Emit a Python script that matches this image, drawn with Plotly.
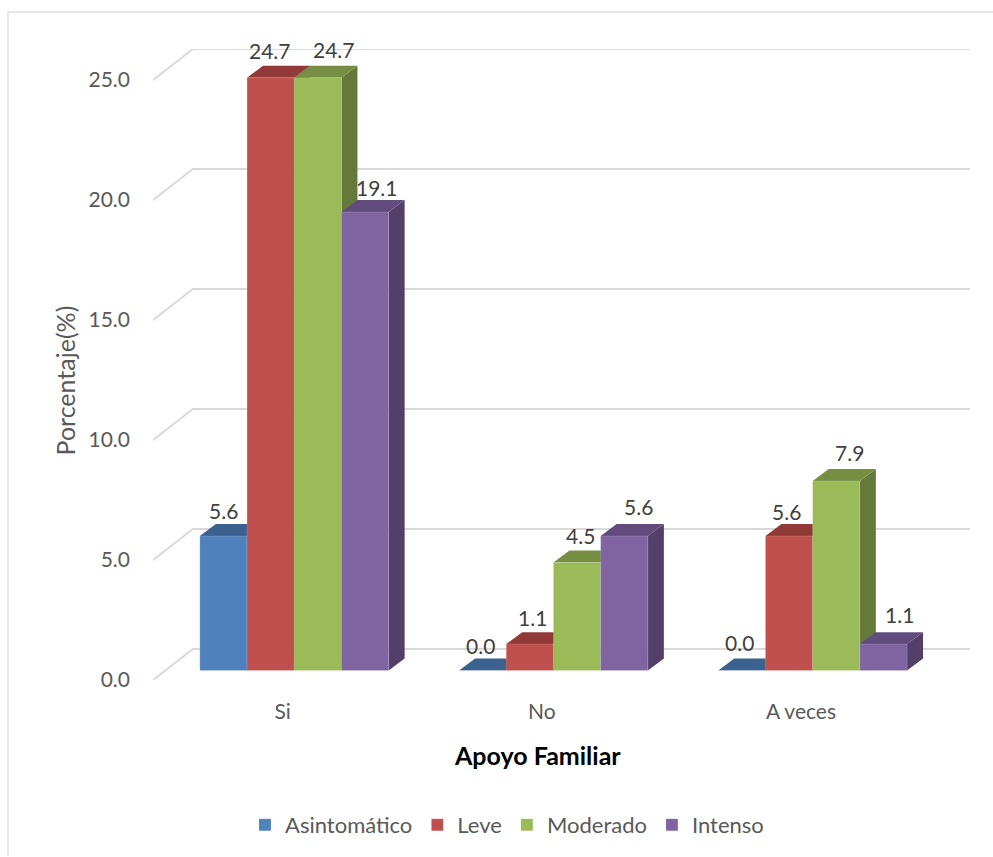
import plotly.graph_objects as go

categories = ["Si", "No", "A veces"]
series_names = ["Asintomático", "Leve", "Moderado", "Intenso"]
asintomatico = [5.6, 0.0, 0.0]
leve = [24.7, 1.1, 5.6]
moderado = [24.7, 4.5, 7.9]
intenso = [19.1, 5.6, 1.1]
y_ticks = [0, 5, 10, 15, 20, 25]
y_tick_labels = ["0.0", "5.0", "10.0", "15.0", "20.0", "25.0"]

values = [asintomatico, leve, moderado, intenso]
front = ["#4F81BD", "#C0504D", "#9BBB59", "#8064A2"]
top = ["#3B618F", "#923A38", "#768F42", "#624C7E"]
side = ["#345578", "#7D3230", "#64793A", "#533F6A"]
# label nudges in pixels, relative to the top centre of each bar
label_dx = [[0, -2, -2], [-1, 3, -3], [16, 3, 13], [12, 14, 16]]
label_dy = [[26, 25, 28], [27, 27, 25], [28, 27, 28], [25, 30, 30]]

W, H = 993, 857
L, R, T, B = 153, 970, 49, 681
PITCH = 259.2
UNIT = 24.04
to_x = lambda px: px / PITCH
to_y = lambda px: px / UNIT
WALL_X, WALL_Y = to_x(40), to_y(31)
BAR_X, BAR_Y = to_x(11.65), to_y(9.5)
DEPTH_X, DEPTH_Y = to_x(16), to_y(12)
BAR_W = to_x(47.2)
paper_x = lambda px: (px - L) / (R - L)
paper_y = lambda px: (B - px) / (B - T)

fig = go.Figure()
shapes = [dict(type="path", xref="paper", yref="paper", layer="below",
               path=f"M {paper_x(8)} {paper_y(857)} L {paper_x(8)} {paper_y(12)} L {paper_x(993)} {paper_y(12)}",
               line=dict(color="#D9D9D9", width=1.25))]
for t in y_ticks:
    shapes.append(dict(type="path", layer="below",
                       path=f"M 0 {t} L {WALL_X} {t + WALL_Y} L {(R - L) / PITCH} {t + WALL_Y}",
                       line=dict(color="#D9D9D9", width=2)))

annotations = []
for k, (name, vals) in enumerate(zip(series_names, values)):
    offset = BAR_X + (k - 2) * BAR_W
    fig.add_trace(go.Bar(
        x=[i + 0.5 for i in range(len(categories))], y=vals, base=BAR_Y,
        width=BAR_W, offset=offset, name=name,
        marker=dict(color=front[k], line=dict(color="rgba(255,255,255,0.2)", width=0.75)),
        hoverinfo="name+y",
    ))
    for i, v in enumerate(vals):
        x0 = i + 0.5 + offset
        x1 = x0 + BAR_W
        y0, y1 = BAR_Y, BAR_Y + v
        if v > 0:
            shapes.append(dict(type="path", layer="below", line=dict(width=0), fillcolor=side[k],
                               path=f"M {x1} {y0} L {x1 + DEPTH_X} {y0 + DEPTH_Y} L {x1 + DEPTH_X} {y1 + DEPTH_Y} L {x1} {y1} Z"))
        shapes.append(dict(type="path", layer="below", line=dict(width=0), fillcolor=top[k],
                           path=f"M {x0} {y1} L {x0 + DEPTH_X} {y1 + DEPTH_Y} L {x1 + DEPTH_X} {y1 + DEPTH_Y} L {x1} {y1} Z"))
        annotations.append(dict(x=(x0 + x1) / 2, y=y1, text=f"{v:.1f}", showarrow=False,
                                xanchor="center", yanchor="middle",
                                xshift=label_dx[k][i], yshift=label_dy[k][i],
                                font=dict(family="Lato", size=21, color="#404040")))

annotations.append(dict(xref="paper", yref="paper", x=paper_x(537), y=paper_y(756), text="<b>Apoyo Familiar</b>",
                        xanchor="center", yanchor="middle",
                        showarrow=False, font=dict(family="Lato", size=25, color="#000000")))
annotations.append(dict(xref="paper", yref="paper", x=paper_x(65), y=paper_y(381), text="Porcentaje(%)",
                        xanchor="center", yanchor="middle",
                        textangle=-90, showarrow=False, font=dict(family="Lato", size=25, color="#595959")))

fig.update_layout(
    width=W, height=H, margin=dict(l=L, r=W - R, t=T, b=H - B),
    paper_bgcolor="white", plot_bgcolor="rgba(0,0,0,0)",
    barmode="overlay", shapes=shapes, annotations=annotations,
    font=dict(family="Lato", size=20, color="#595959"),
    legend=dict(orientation="h", x=paper_x(245), xanchor="left", y=paper_y(825), yanchor="middle",
                font=dict(family="Lato", size=22, color="#595959"), bgcolor="rgba(0,0,0,0)"),
    xaxis=dict(range=[0, (R - L) / PITCH], tickmode="array", tickvals=[i + 0.5 for i in range(len(categories))],
               ticktext=categories, showgrid=False, zeroline=False, showline=False, ticks="",
               ticklabelstandoff=17, tickfont=dict(family="Lato", size=21, color="#595959")),
    yaxis=dict(range=[0, (B - T) / UNIT], tickmode="array", tickvals=y_ticks, ticktext=y_tick_labels,
               showgrid=False, zeroline=False, showline=False, ticks="",
               ticklabelstandoff=22, tickfont=dict(family="Lato", size=21, color="#595959")),
)
fig.write_html("out.html", config={"displayModeBar": False}, post_script="document.body.style.margin='0';")
